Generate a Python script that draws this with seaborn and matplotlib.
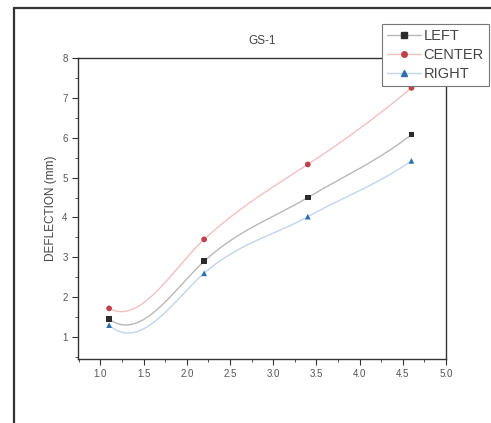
import numpy as np
import pandas as pd
import matplotlib
matplotlib.use("Agg")
import matplotlib.pyplot as plt
from matplotlib.lines import Line2D
from matplotlib.ticker import MultipleLocator
import seaborn as sns

# ---- data ----
x_vals = [1.1, 2.2, 3.4, 4.6]
left_vals = [1.45, 2.90, 4.50, 6.08]
center_vals = [1.72, 3.45, 5.33, 7.25]
right_vals = [1.30, 2.60, 4.02, 5.42]
series_names = ["LEFT", "CENTER", "RIGHT"]
x_ticks = [1.0, 1.5, 2.0, 2.5, 3.0, 3.5, 4.0, 4.5, 5.0]
y_ticks = [1, 2, 3, 4, 5, 6, 7, 8]

# curve shape (tangent slopes used by the smooth connecting line)
tangents = {
    "LEFT": [-1.6, 2.0, 1.3, 1.7],
    "CENTER": [-1.2, 2.0, 1.4, 1.8],
    "RIGHT": [-1.9, 1.9, 1.2, 1.5],
}
colors = {"LEFT": "#2b2b2b", "CENTER": "#c0404a", "RIGHT": "#2f6fb0"}
line_colors = {"LEFT": "#b8b8b8", "CENTER": "#f2c0c0", "RIGHT": "#c0d6ec"}
markers = {"LEFT": "s", "CENTER": "o", "RIGHT": "^"}

values = {"LEFT": left_vals, "CENTER": center_vals, "RIGHT": right_vals}


def hermite(xs, ys, ms, n=60):
    out_x, out_y = [], []
    for i in range(len(xs) - 1):
        h = xs[i + 1] - xs[i]
        t = np.linspace(0, 1, n, endpoint=(i == len(xs) - 2))
        h00 = 2 * t**3 - 3 * t**2 + 1
        h10 = t**3 - 2 * t**2 + t
        h01 = -2 * t**3 + 3 * t**2
        h11 = t**3 - t**2
        out_x.append(xs[i] + t * h)
        out_y.append(h00 * ys[i] + h10 * h * ms[i] + h01 * ys[i + 1] + h11 * h * ms[i + 1])
    return np.concatenate(out_x), np.concatenate(out_y)


sns.set_style("white")
plt.rcParams["font.family"] = ["Liberation Sans", "DejaVu Sans"]

fig = plt.figure(figsize=(4.91, 4.23), dpi=100)
ax = fig.add_axes([78 / 491, 1 - 359 / 423, 368 / 491, 301 / 423])

pts = pd.DataFrame({
    "x": x_vals * 3,
    "y": left_vals + center_vals + right_vals,
    "series": [s for s in series_names for _ in x_vals],
})

for name in series_names:
    cx, cy = hermite(x_vals, values[name], tangents[name])
    sns.lineplot(x=cx, y=cy, ax=ax, color=line_colors[name], lw=1.0,
                 sort=False, estimator=None, legend=False, zorder=2)

sns.scatterplot(data=pts, x="x", y="y", hue="series", style="series",
                palette=colors, markers=markers, s=17, edgecolor="none",
                ax=ax, legend=False, zorder=3)

ax.set_xlim(0.74, 5.0)
ax.set_ylim(0.45, 8.0)
ax.set_xticks(x_ticks)
ax.set_xticklabels([f"{v:.1f}" for v in x_ticks])
ax.set_yticks(y_ticks)
ax.set_yticklabels([str(v) for v in y_ticks])
ax.xaxis.set_minor_locator(MultipleLocator(0.25))
ax.yaxis.set_minor_locator(MultipleLocator(0.5))
ax.tick_params(which="major", direction="out", length=4, width=0.8,
               colors="#333333", labelsize=7, labelcolor="#555555",
               bottom=True, left=True)
ax.tick_params(which="minor", direction="out", length=2, width=0.6,
               colors="#333333", bottom=True, left=True)
for sp in ax.spines.values():
    sp.set_color("#333333")
    sp.set_linewidth(1.0)

ax.set_xlabel("")
ax.set_ylabel("DEFLECTION (mm)", fontsize=8.5, color="#444444", labelpad=4)
ax.set_title("GS-1", fontsize=8.5, color="#444444", pad=10)

handles = [Line2D([0], [0], color=line_colors[n], lw=1.0, marker=markers[n],
                  markersize=4, markerfacecolor=colors[n],
                  markeredgecolor=colors[n]) for n in series_names]
leg = ax.legend(handles, series_names, loc="upper left",
                bbox_to_anchor=(0.826, 1.113), frameon=True, fancybox=False,
                fontsize=10.5, handlelength=2.3, handletextpad=0.2,
                borderpad=0.35, labelspacing=0.35, borderaxespad=0)
leg.get_frame().set_edgecolor("#777777")
leg.get_frame().set_linewidth(0.8)
leg.get_frame().set_facecolor("white")
leg.get_frame().set_alpha(1.0)
for t in leg.get_texts():
    t.set_color("#444444")

# screenshot frame lines (top and left)
fig.add_artist(Line2D([13.5 / 491, 1.0], [1 - 8.5 / 423, 1 - 8.5 / 423],
                      transform=fig.transFigure, color="#333333", lw=1.6))
fig.add_artist(Line2D([13.5 / 491, 13.5 / 491], [0, 1 - 8.5 / 423],
                      transform=fig.transFigure, color="#333333", lw=1.6))

fig.savefig("out.png", dpi=100)
